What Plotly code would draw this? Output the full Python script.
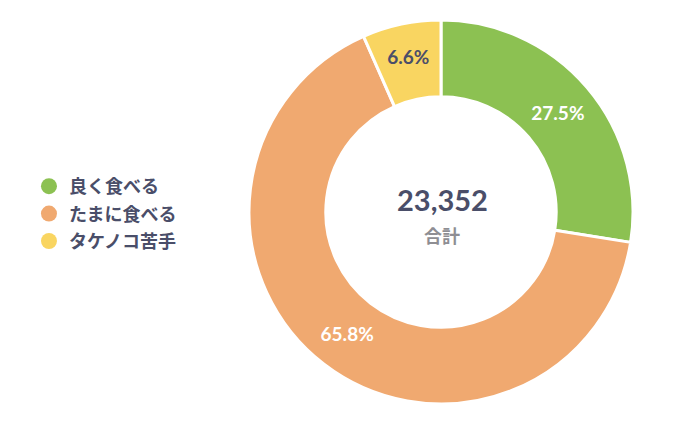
import plotly.graph_objects as go

labels = ["良く食べる", "たまに食べる", "タケノコ苦手"]
percents = [27.5, 65.8, 6.6]
colors = ["#8CC152", "#F0A970", "#F9D561"]
text_colors = ["#FFFFFF", "#FFFFFF", "#4A4E69"]
total_label = "23,352"
total_caption = "合計"

W, H = 699, 439
cx, cy, r = 433, 204, 192

fig = go.Figure()
fig.add_trace(go.Pie(
    labels=labels, values=percents, sort=False, direction="clockwise", rotation=0,
    hole=0.6,
    marker=dict(colors=colors, line=dict(color="white", width=3)),
    texttemplate="<b>%{value:.1f}%</b>", textposition="inside", insidetextorientation="horizontal",
    textfont=dict(family="Lato, Noto Sans CJK JP", size=19, color=text_colors),
    hoverinfo="label+percent", showlegend=False,
    domain=dict(x=[(cx - r) / W, (cx + r) / W], y=[(H - cy - r) / H, (H - cy + r) / H]),
))
for lab, col in zip(labels, colors):
    fig.add_trace(go.Scatter(x=[None], y=[None], mode="markers", name=lab, legendgroup=lab,
                             marker=dict(color=col, size=16, symbol="circle")))

fig.add_annotation(x=434 / W, y=(H - 191) / H, xref="paper", yref="paper", text="<b>" + total_label + "</b>",
                   showarrow=False, font=dict(family="Lato, Noto Sans", size=29, color="#4A4E69"))
fig.add_annotation(x=434 / W, y=(H - 227) / H, xref="paper", yref="paper", text="<b>" + total_caption + "</b>",
                   showarrow=False, font=dict(family="Noto Sans CJK JP", size=18, color="#8E8E93"))

fig.update_layout(
    width=W, height=H, margin=dict(l=0, r=0, t=0, b=0),
    paper_bgcolor="white", plot_bgcolor="white",
    xaxis=dict(visible=False), yaxis=dict(visible=False),
    legend=dict(x=0.03, y=(H - 206) / H, xanchor="left", yanchor="middle",
                font=dict(family="Noto Sans CJK JP", size=18, color="#4A4E69", weight="bold"),
                itemsizing="trace", tracegroupgap=1),
)
fig.write_html("out.html")
